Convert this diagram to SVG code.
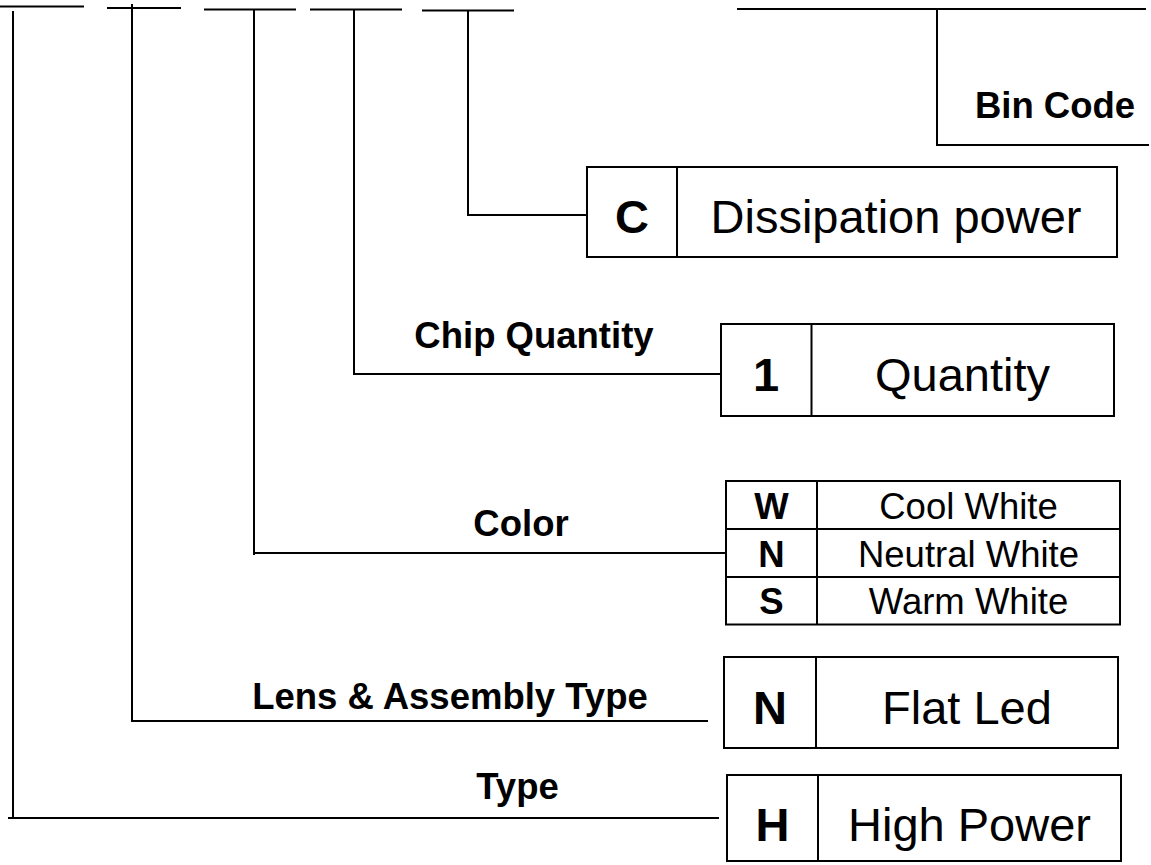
<svg xmlns="http://www.w3.org/2000/svg" width="1151" height="865" viewBox="0 0 1151 865">
<style>
  .ln { stroke: #000; stroke-width: 2; fill: none; }
  .box { stroke: #000; stroke-width: 2; fill: #fff; }
  .lbl { font-family: "Liberation Sans", Arial, sans-serif; font-weight: bold; font-size: 36.5px; fill: #000; text-anchor: middle; }
  .tb { font-family: "Liberation Sans", Arial, sans-serif; font-size: 36.5px; fill: #000; text-anchor: middle; }
  .tbb { font-family: "Liberation Sans", Arial, sans-serif; font-weight: bold; font-size: 36.5px; fill: #000; text-anchor: middle; }
  .big { font-family: "Liberation Sans", Arial, sans-serif; font-size: 47px; fill: #000; text-anchor: middle; }
  .bigb { font-family: "Liberation Sans", Arial, sans-serif; font-weight: bold; font-size: 47px; fill: #000; text-anchor: middle; }
</style>
<rect width="1151" height="865" fill="#fff"/>
<g id="connectors">
  <line class="ln" x1="0" y1="6.5" x2="84" y2="6.5"/>
  <line class="ln" x1="107" y1="8" x2="181" y2="8"/>
  <line class="ln" x1="204" y1="9.5" x2="296" y2="9.5"/>
  <line class="ln" x1="310" y1="9.5" x2="402" y2="9.5"/>
  <line class="ln" x1="422" y1="10.5" x2="514" y2="10.5"/>
  <line class="ln" x1="737" y1="9" x2="1146" y2="9"/>
  <polyline class="ln" points="13,11 13,818"/>
  <line class="ln" x1="8" y1="818" x2="719" y2="818"/>
  <polyline class="ln" points="132,4 132,721 708,721"/>
  <polyline class="ln" points="254,9.5 254,555"/>
  <line class="ln" x1="254" y1="553" x2="726" y2="553"/>
  <polyline class="ln" points="354,9.5 354,374 721,374"/>
  <polyline class="ln" points="468,10.5 468,215 587,215"/>
  <polyline class="ln" points="937,9 937,145 1149,145"/>
</g>
<g id="bin-code">
  <text class="lbl" x="1055" y="118">Bin Code</text>
</g>
<g id="dissipation">
  <rect class="box" x="587" y="167" width="530" height="90"/>
  <line class="ln" x1="677" y1="167" x2="677" y2="257"/>
  <text class="bigb" x="632" y="233">C</text>
  <text class="big" x="896" y="233">Dissipation power</text>
</g>
<g id="chip-quantity">
  <text class="lbl" x="534" y="348">Chip Quantity</text>
  <rect class="box" x="721" y="324" width="393" height="92"/>
  <line class="ln" x1="811.5" y1="324" x2="811.5" y2="416"/>
  <text class="bigb" x="766" y="391">1</text>
  <text class="big" x="962.5" y="391">Quantity</text>
</g>
<g id="color">
  <text class="lbl" x="521" y="536">Color</text>
  <rect class="box" x="726" y="481" width="394" height="143.5"/>
  <line class="ln" x1="726" y1="529" x2="1120" y2="529"/>
  <line class="ln" x1="726" y1="577" x2="1120" y2="577"/>
  <line class="ln" x1="817" y1="481" x2="817" y2="624.5"/>
  <text class="tbb" x="771.5" y="519">W</text>
  <text class="tb" x="968.5" y="519">Cool White</text>
  <text class="tbb" x="771.5" y="567">N</text>
  <text class="tb" x="968.5" y="567">Neutral White</text>
  <text class="tbb" x="771.5" y="614">S</text>
  <text class="tb" x="968.5" y="614">Warm White</text>
</g>
<g id="lens">
  <text class="lbl" x="450" y="709">Lens &amp; Assembly Type</text>
  <rect class="box" x="724" y="657" width="394" height="91"/>
  <line class="ln" x1="816" y1="657" x2="816" y2="748"/>
  <text class="bigb" x="770" y="724">N</text>
  <text class="big" x="967" y="724">Flat Led</text>
</g>
<g id="type">
  <text class="lbl" x="517.5" y="799">Type</text>
  <rect class="box" x="727" y="775" width="394" height="86"/>
  <line class="ln" x1="818" y1="775" x2="818" y2="861"/>
  <text class="bigb" x="772.5" y="841">H</text>
  <text class="big" x="969.5" y="841">High Power</text>
</g>
</svg>
